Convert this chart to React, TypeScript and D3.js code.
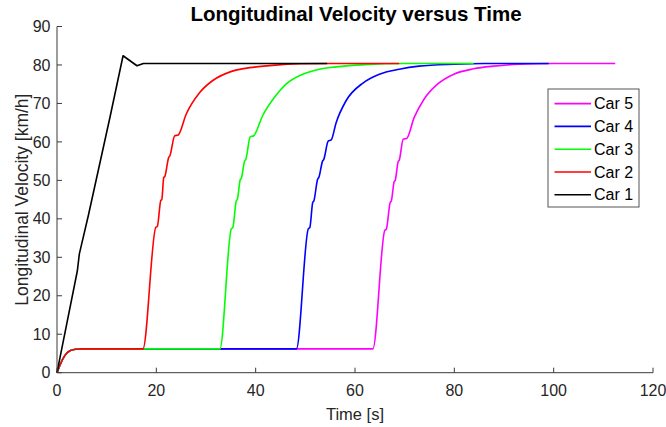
import React from "react";
import * as d3 from "d3";

const title = "Longitudinal Velocity versus Time";
const xLabel = "Time [s]";
const yLabel = "Longitudinal Velocity [km/h]";
const xTicks = [0, 20, 40, 60, 80, 100, 120];
const yTicks = [0, 10, 20, 30, 40, 50, 60, 70, 80, 90];

const car1T = [0, 4.1, 4.5, 6.3, 10.7, 13.3, 16.1, 17.4, 54.4];
const car1V = [0, 26.5, 30.9, 40.8, 66.6, 82.4, 79.8, 80.4, 80.4];

const car2T = [0, 0.6, 1.6, 2.6, 3.9, 5, 17.3, 19.9, 20.2, 20.9, 21.1, 21.5, 21.7, 22.5, 22.7, 23.7, 24.4, 26.0, 28.7, 31.3, 35.3, 38.8, 43.4, 49, 55, 68.9];
const car2V = [0, 2.0, 4.5, 5.7, 6.1, 6.2, 6.2, 37.8, 38.0, 44.8, 45.0, 50.8, 51.0, 56.0, 56.3, 61.6, 61.8, 67.2, 72.8, 75.9, 78.4, 79.3, 79.9, 80.3, 80.4, 80.4];

const car3T = [0, 0.6, 1.6, 2.6, 3.9, 5, 32.8, 35.1, 35.4, 36.1, 36.3, 36.9, 37.1, 37.8, 38.0, 38.9, 39.6, 41.4, 44.1, 46.1, 49.5, 52.8, 56.2, 62, 70, 83.9];
const car3V = [0, 2.0, 4.5, 5.7, 6.1, 6.2, 6.2, 37.4, 37.7, 44.7, 45.0, 50.2, 50.5, 55.1, 55.4, 61.3, 61.6, 66.8, 72.1, 75.0, 77.6, 78.9, 79.5, 80.1, 80.4, 80.4];

const car4T = [0, 0.6, 1.6, 2.6, 3.9, 5, 48.2, 50.6, 50.9, 51.5, 51.7, 52.5, 52.7, 53.5, 53.7, 54.6, 55.2, 56.2, 58.2, 61.6, 64.9, 68.9, 72.9, 80, 86, 99.0];
const car4V = [0, 2.0, 4.5, 5.7, 6.1, 6.2, 6.2, 37.4, 37.7, 44.3, 44.6, 50.4, 50.7, 55.1, 55.4, 60.2, 60.5, 65.0, 70.7, 75.3, 77.6, 78.9, 79.7, 80.2, 80.4, 80.4];

const car5T = [0, 0.6, 1.6, 2.6, 3.9, 5, 63.6, 66.0, 66.3, 67.1, 67.3, 67.9, 68.1, 68.7, 68.9, 69.7, 70.4, 71.9, 73.9, 76.6, 79.9, 83.9, 87.9, 93, 100, 112.4];
const car5V = [0, 2.0, 4.5, 5.7, 6.1, 6.2, 6.2, 37.0, 37.3, 44.3, 44.6, 49.7, 50.0, 54.9, 55.2, 60.7, 60.9, 66.3, 71.1, 75.0, 77.6, 79.0, 79.7, 80.2, 80.4, 80.4];

const seriesNames = ["Car 5", "Car 4", "Car 3", "Car 2", "Car 1"];
const seriesColors = ["#ff00ff", "#0000ff", "#00ff00", "#ff0000", "#000000"];
const seriesT = [car5T, car4T, car3T, car2T, car1T];
const seriesV = [car5V, car4V, car3V, car2V, car1V];

export default function App() {
  const W = 666, H = 427;
  const x = d3.scaleLinear().domain([0, 120]).range([57, 653]);
  const y = d3.scaleLinear().domain([0, 90]).range([372.7, 26.5]);
  const axisColor = "#3a3a3a";
  const textColor = "#262626";
  const font = "'Liberation Sans', Arial, Helvetica, sans-serif";

  const lineLinear = d3.line<[number, number]>().x(d => x(d[0])).y(d => y(d[1]));
  const lineSmooth = d3.line<[number, number]>().x(d => x(d[0])).y(d => y(d[1])).curve(d3.curveMonotoneX);

  const legX = 548, legY = 89, legW = 91, legH = 118;
  const legRowY = (i: number) => 103.6 + i * 22.8;

  return (
    <svg width={W} height={H} style={{ position: "absolute", left: 0, top: 0, background: "#fff" }} fontFamily={font}>
      <rect x={0} y={0} width={W} height={H} fill="#fff" />
      <text x={356} y={21} textAnchor="middle" fontWeight="bold" fontSize={20.5} fill="#000">{title}</text>

      {seriesNames.map((name, i) => {
        const pts: [number, number][] = seriesT[i].map((t, j) => [t, seriesV[i][j]]);
        const gen = name === "Car 1" ? lineLinear : lineSmooth;
        return <path key={name} d={gen(pts) || ""} fill="none" stroke={seriesColors[i]} strokeWidth={1.6} strokeLinejoin="round" />;
      })}

      {/* axes */}
      <line x1={x(0)} x2={x(120)} y1={y(0)} y2={y(0)} stroke={axisColor} strokeWidth={1} />
      <line x1={x(0)} x2={x(0)} y1={y(0)} y2={y(90)} stroke={axisColor} strokeWidth={1} />
      {xTicks.map(t => (
        <g key={"xt" + t}>
          <line x1={x(t)} x2={x(t)} y1={y(0)} y2={y(0) - 5} stroke={axisColor} />
          <text x={x(t)} y={395.5} textAnchor="middle" fontSize={16} fill={textColor}>{t}</text>
        </g>
      ))}
      {yTicks.map(t => (
        <g key={"yt" + t}>
          <line x1={x(0)} x2={x(0) + 5} y1={y(t)} y2={y(t)} stroke={axisColor} />
          <text x={50.5} y={y(t)} dy="0.35em" textAnchor="end" fontSize={16} fill={textColor}>{t}</text>
        </g>
      ))}
      <text x={355} y={420} textAnchor="middle" fontSize={16.5} fill={textColor}>{xLabel}</text>
      <text transform={`translate(28,${(y(0) + y(90)) / 2}) rotate(-90)`} textAnchor="middle" fontSize={17.5} fill={textColor}>{yLabel}</text>

      {/* legend */}
      <rect x={legX} y={legY} width={legW} height={legH} fill="#fff" stroke="#555" strokeWidth={1} />
      {seriesNames.map((name, i) => (
        <g key={"lg" + name}>
          <line x1={554.5} x2={591} y1={legRowY(i)} y2={legRowY(i)} stroke={seriesColors[i]} strokeWidth={1.6} />
          <text x={594} y={legRowY(i)} dy="0.35em" fontSize={16} fill="#000">{name}</text>
        </g>
      ))}
    </svg>
  );
}
